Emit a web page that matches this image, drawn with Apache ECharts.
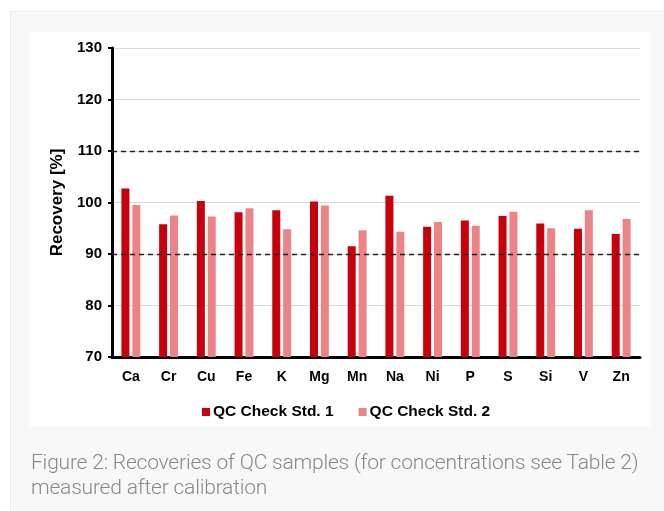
<!DOCTYPE html>
<html>
<head>
<meta charset="utf-8">
<script src="https://cdn.jsdelivr.net/npm/echarts@6/dist/echarts.min.js"></script>
<style>
    html, body { margin: 0; padding: 0; background: #fff; }
    #outer { position: absolute; left: 10px; top: 11px; width: 654px; height: 500px; background: #f8f8f8; border-left: 1px solid #ececec; border-top: 1px solid #ececec; }
    #inner { position: absolute; left: 29px; top: 32px; width: 622px; height: 395px; background: #fff; }
    #chart { position: absolute; left: 0; top: 0; width: 664px; height: 511px; }
    #caption { position: absolute; left: 31px; top: 450px; font-family: Roboto, sans-serif; font-weight: 300; font-size: 21px; line-height: 25px; color: #888; white-space: nowrap; letter-spacing: -0.2px; }
</style>
</head>
<body>
<div id="outer"></div>
<div id="inner"></div>
<div id="chart"></div>
<div id="caption">Figure 2: Recoveries of QC samples (for concentrations see Table 2)<br>measured after calibration</div>
<script>
// elements on the x axis
var elements = ["Ca", "Cr", "Cu", "Fe", "K", "Mg", "Mn", "Na", "Ni", "P", "S", "Si", "V", "Zn"];
// recoveries [%]
var std1 = [102.7, 95.8, 100.3, 98.1, 98.5, 100.2, 91.5, 101.3, 95.3, 96.5, 97.4, 95.9, 94.9, 93.9];
var std2 = [99.5, 97.5, 97.3, 98.9, 94.8, 99.4, 94.6, 94.3, 96.2, 95.5, 98.2, 95.0, 98.5, 96.8];
// limits drawn as dashed lines
var limits = [110, 90];

var font = "'Liberation Sans', Arial, sans-serif";
var chart = echarts.init(document.getElementById("chart"));
chart.setOption({
    animation: false,
    textStyle: { fontFamily: font },
    grid: { left: 112, right: 24, top: 48, bottom: 154 },
    legend: {
        top: 399,
        left: 197,
        itemWidth: 8,
        itemHeight: 8,
        itemGap: 25,
        icon: "rect",
        textStyle: { fontFamily: font, fontSize: 15.5, fontWeight: "bold", color: "#000", padding: [0, 0, 0, -2] },
        data: ["QC Check Std. 1", "QC Check Std. 2"]
    },
    xAxis: {
        type: "category",
        data: elements,
        axisLine: { lineStyle: { color: "#000", width: 3 } },
        axisTick: { show: false },
        axisLabel: { fontFamily: font, fontSize: 14, fontWeight: "bold", color: "#000", margin: 13 }
    },
    yAxis: {
        type: "value",
        min: 70,
        max: 130,
        interval: 10,
        name: "Recovery [%]",
        nameLocation: "middle",
        nameGap: 46,
        nameTextStyle: { fontFamily: font, fontSize: 17, fontWeight: "bold", color: "#000" },
        axisLine: { show: true, lineStyle: { color: "#000", width: 3 } },
        axisTick: { show: true, length: 4, lineStyle: { color: "#000", width: 2 } },
        axisLabel: { fontFamily: font, fontSize: 15, fontWeight: "bold", color: "#000", margin: 10 },
        splitLine: { lineStyle: { color: "#d9d9d9", width: 1 } }
    },
    series: [{
        name: "QC Check Std. 1",
        type: "bar",
        data: std1,
        barWidth: 8,
        barGap: "36%",
        itemStyle: { color: "#c8000b" },
        markLine: {
            silent: true,
            symbol: "none",
            label: { show: false },
            lineStyle: { color: "#222", type: [5, 4], width: 1.3 },
            data: limits.map(function (v) { return { yAxis: v }; })
        }
    }, {
        name: "QC Check Std. 2",
        type: "bar",
        data: std2,
        barWidth: 8,
        itemStyle: { color: "#ec8386" }
    }]
});
</script>
</body>
</html>
